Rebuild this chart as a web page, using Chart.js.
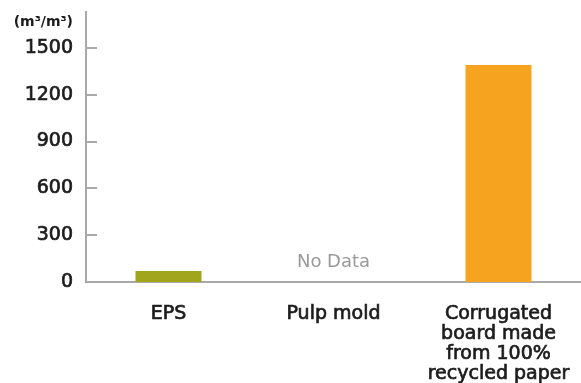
<!DOCTYPE html>
<html>
<head>
<meta charset="utf-8">
<script src="https://cdn.jsdelivr.net/npm/chart.js@4/dist/chart.umd.min.js"></script>
<style>
  html, body { margin: 0; padding: 0; background: #fff; }
  #wrap { width: 581px; height: 383px; position: relative; }
</style>
</head>
<body>
<div id="wrap"><canvas id="c"></canvas></div>
<script>
// Volume ratio by packaging material
const categories = [
  ['EPS'],
  ['Pulp mold'],
  ['Corrugated', 'board made', 'from 100%', 'recycled paper']
];
const values = [70, null, 1390];
const barColors = ['#A0A51B', '#F6A320', '#F6A320'];
const yTicks = [0, 300, 600, 900, 1200, 1500];
const unitLabel = '(m\u00B3/m\u00B3)';
const noDataLabel = 'No Data';

const FONT = '"DejaVu Sans", "Noto Sans", sans-serif';
const AXIS = '#A9A9A9';
const INK = '#1c1c1c';

// short inward tick marks, unit label and the "No Data" note
const extras = {
  id: 'extras',
  afterDraw(chart) {
    const { ctx, chartArea } = chart;
    const y = chart.scales.y, x = chart.scales.x;
    ctx.save();
    ctx.strokeStyle = AXIS;
    ctx.lineWidth = 2;
    yTicks.forEach(v => {
      if (v === 0) return;
      const py = Math.round(y.getPixelForValue(v));
      ctx.beginPath();
      ctx.moveTo(chartArea.left, py);
      ctx.lineTo(chartArea.left + 11, py);
      ctx.stroke();
    });
    ctx.fillStyle = INK;
    ctx.font = '700 14px ' + FONT;
    ctx.textAlign = 'right';
    ctx.textBaseline = 'middle';
    ctx.fillText(unitLabel, chartArea.left - 13, 22);

    values.forEach((v, i) => {
      if (v === null) {
        ctx.fillStyle = '#9a9a9a';
        ctx.font = '400 18px ' + FONT;
        ctx.textAlign = 'center';
        ctx.textBaseline = 'middle';
        ctx.fillText(noDataLabel, x.getPixelForValue(i), y.getPixelForValue(0) - 20);
      }
    });
    ctx.restore();
  }
};

new Chart(document.getElementById('c'), {
  type: 'bar',
  data: {
    labels: categories,
    datasets: [{
      data: values,
      backgroundColor: barColors,
      borderWidth: 0,
      barPercentage: 0.4,
      categoryPercentage: 1.0
    }]
  },
  options: {
    responsive: true,
    maintainAspectRatio: false,
    animation: false,
    layout: { padding: { top: 12, right: 0, left: 0, bottom: 0 } },
    plugins: { legend: { display: false }, tooltip: { enabled: false } },
    scales: {
      x: {
        grid: { display: false, drawTicks: false },
        border: { color: AXIS, width: 2 },
        ticks: {
          color: INK,
          textStrokeColor: INK,
          textStrokeWidth: 0.7,
          font: { family: FONT, size: 19, weight: '400', lineHeight: 1.05 },
          padding: 22,
          maxRotation: 0,
          autoSkip: false
        },
        afterFit(s) { s.height = 101; s.paddingLeft = 0; s.paddingRight = 0; }
      },
      y: {
        min: 0,
        max: 1730,
        grid: { display: false, drawTicks: false },
        border: { color: AXIS, width: 2 },
        afterBuildTicks(s) { s.ticks = yTicks.map(v => ({ value: v })); },
        ticks: {
          color: INK,
          textStrokeColor: INK,
          textStrokeWidth: 0.7,
          font: { family: FONT, size: 19, weight: '400' },
          padding: 13,
          callback: v => String(v)
        },
        afterFit(s) { s.width = 86; s.paddingTop = 0; s.paddingBottom = 0; }
      }
    }
  },
  plugins: [extras]
});
</script>
</body>
</html>
